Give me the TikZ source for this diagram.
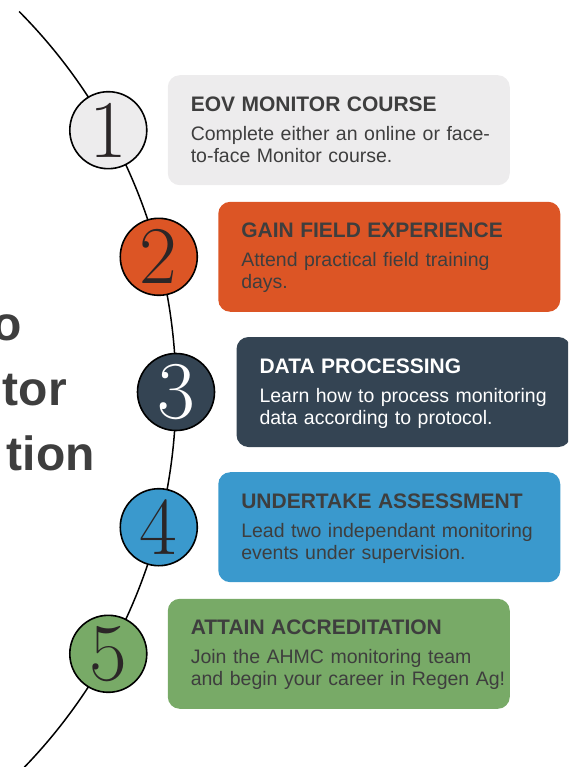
\documentclass[tikz,border=0pt]{standalone}
\usepackage{fontspec}
\usepackage{tikz}
\usetikzlibrary{positioning,calc}
\newfontfamily\boxfont{Liberation Sans}

\definecolor{paleGray}{HTML}{EDECED}
\definecolor{fieldOrange}{HTML}{DC5525}
\definecolor{dataSlate}{HTML}{344453}
\definecolor{assessBlue}{HTML}{3A99CD}
\definecolor{accredGreen}{HTML}{78AA67}
\definecolor{inkGray}{HTML}{3E3E3E}
\definecolor{digitInk}{HTML}{2B2627}

\newcommand{\steptext}[3]{\rule{0pt}{21pt}{\bfseries\fontsize{21}{22}\selectfont #1}\\[7pt]\mbox{#2}\\\mbox{#3}\rule[-8pt]{0pt}{8pt}}

\begin{document}
\begin{tikzpicture}[x=1pt,y=-1pt,
  stepnum/.style={circle,draw=black,line width=1.6pt,minimum size=77pt,inner sep=0pt,
    text=digitInk,font=\fontsize{82}{82}\selectfont},
  stepbox/.style={rounded corners=12pt,minimum height=110pt,anchor=west,align=left,
    inner xsep=23pt,inner ysep=0pt,text width=296pt,minimum width=342pt,text=inkGray,
    font=\boxfont\fontsize{19.5}{22}\selectfont},
  bigword/.style={anchor=base east,inner sep=0pt,text=inkGray,
    font=\boxfont\bfseries\fontsize{48}{48}\selectfont}]
\useasboundingbox (0,0) rectangle (568,767);
\clip (0,0) rectangle (568,767);

% the curved path
\coordinate (ctr) at (-364,392);
\draw[line width=1.5pt] (ctr) ++(-44.8:540) arc[start angle=-44.8,end angle=46,radius=540];

% title, cut at the left edge
\node[bigword] (w1) at (22,340) {o};
\node[bigword] (w2) at (67,405) {tor};
\node[bigword] (w3) at (95,470) {tion};

% numbered circles
\node[stepnum,fill=paleGray] (n1) at ($(ctr)+(-29:540)$) {1};
\node[stepnum,fill=fieldOrange] (n2) at ($(ctr)+(-14.5:540)$) {2};
\node[stepnum,fill=dataSlate,text=white] (n3) at ($(ctr)+(0:540)$) {3};
\node[stepnum,fill=assessBlue] (n4) at ($(ctr)+(14.5:540)$) {4};
\node[stepnum,fill=accredGreen] (n5) at ($(ctr)+(29:540)$) {5};

% boxes
\node[stepbox,fill=paleGray,right=20pt of n1] (b1)
  {\steptext{EOV MONITOR COURSE}{Complete either an online or face-}{to-face Monitor course.}};
\node[stepbox,fill=fieldOrange,right=20pt of n2] (b2)
  {\steptext{GAIN FIELD EXPERIENCE}{Attend practical field training}{days.}};
\node[stepbox,fill=dataSlate,text=white,minimum width=334pt,text width=288pt,right=21pt of n3] (b3)
  {\steptext{DATA PROCESSING}{Learn how to process monitoring}{data according to protocol.}};
\node[stepbox,fill=assessBlue,right=20pt of n4] (b4)
  {\steptext{UNDERTAKE ASSESSMENT}{Lead two independant monitoring}{events under supervision.}};
\node[stepbox,fill=accredGreen,right=20pt of n5] (b5)
  {\steptext{ATTAIN ACCREDITATION}{Join the AHMC monitoring team}{and begin your career in Regen Ag!}};

\end{tikzpicture}
\end{document}
